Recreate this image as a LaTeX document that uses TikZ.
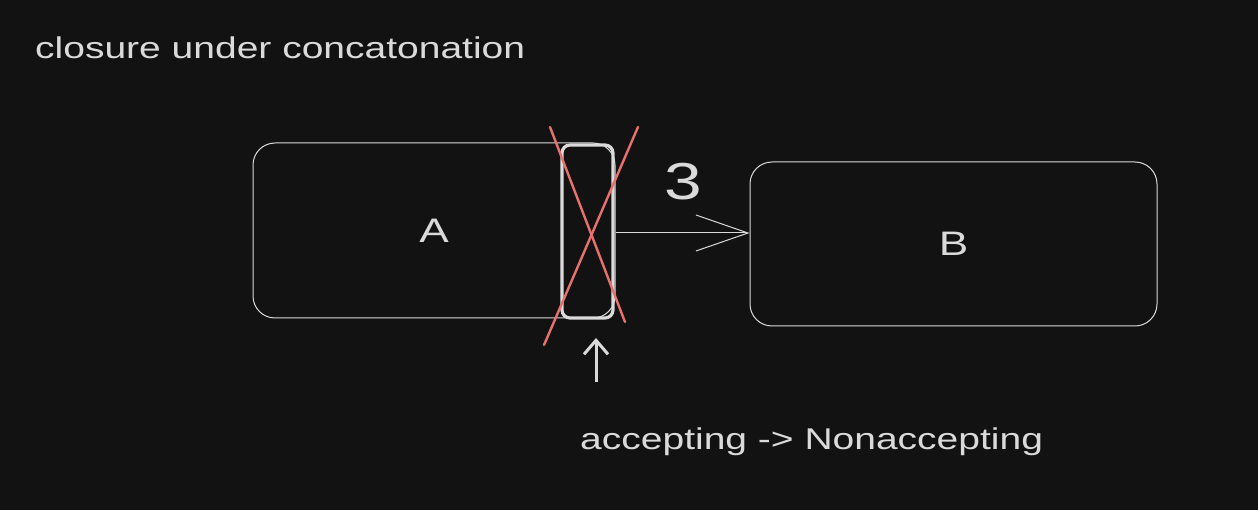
\documentclass[tikz,border=0pt]{standalone}
\usepackage{fontspec}
\usetikzlibrary{arrows.meta}
\newfontfamily\handfont[FakeStretch=1.3]{Liberation Sans}
\definecolor{bg}{HTML}{121212}
\definecolor{ink}{HTML}{DADADA}
\definecolor{cross}{HTML}{E8706E}

\begin{document}
\begin{tikzpicture}[x=1pt,y=-1pt,
  font=\handfont, text=ink,
  state/.style={draw=ink, line width=1pt, rounded corners=22pt, minimum width=#1},
  state/.default=362pt,
  acc/.style={draw=ink, line width=3.2pt, rounded corners=8pt, minimum width=51pt, minimum height=173pt},
  link/.style={draw=ink, line width=1pt, -{Straight Barb[length=52pt,width=36pt]}},
  pointer/.style={draw=ink, line width=3pt, -{Straight Barb[length=14pt,width=24pt]}},
  note/.style={font=\handfont\fontsize{30}{36}\selectfont, anchor=west, inner sep=0pt}]
\fill[bg] (0,0) rectangle (1258,510);
\useasboundingbox (0,0) rectangle (1258,510);
\node[note]                                  (title) at (35,48) {closure under concatonation};
\node[state, minimum height=175pt]           (A) at (434,230.5) {\fontsize{34}{40}\selectfont A};
\node[state=407pt, minimum height=164pt]     (B) at (953.5,244) {\fontsize{34}{40}\selectfont B};
\node[acc]                                   (fin) at (587.5,231.5) {};
  % the crossed-out accepting state
  \draw[cross, line width=2.4pt, line cap=round] (550,127) -- (625,322);
  \draw[cross, line width=2.4pt, line cap=round] (638,127) -- (544,345);
\draw[link] (A.east) ++(0,2.5) coordinate (out) -- (out -| B.west);
\node[font=\handfont\fontsize{52}{60}\selectfont] (eps) at (683,182) {3};
\coordinate (foot) at (596,382);
\coordinate (tip) at (596,338);
\draw[pointer] (foot) -- (tip);
\node[note]                                  (flip) at (580,442) {accepting -> Nonaccepting};
\end{tikzpicture}
\end{document}
